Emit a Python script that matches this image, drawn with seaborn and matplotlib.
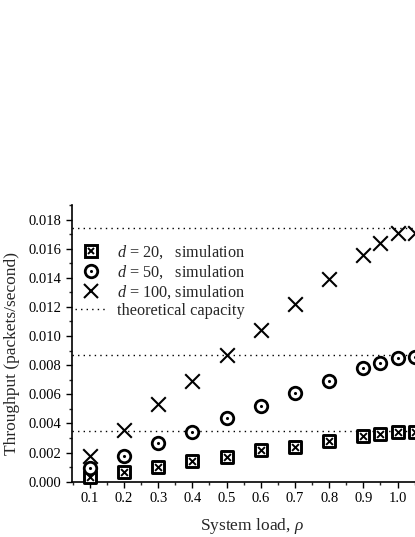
import numpy as np
import pandas as pd
import matplotlib
matplotlib.use("Agg")
import matplotlib.pyplot as plt
from matplotlib.lines import Line2D
from matplotlib.ticker import MultipleLocator, FixedLocator, FormatStrFormatter
import seaborn as sns

# ── data ────────────────────────────────────────────────────────────────────
rho = [0.1, 0.2, 0.3, 0.4, 0.5, 0.6, 0.7, 0.8, 0.9, 0.95, 1.0, 1.05]
thr_d20 = [0.00034, 0.00069, 0.00103, 0.00142, 0.00172, 0.00218,
           0.00241, 0.00282, 0.00314, 0.00328, 0.00340, 0.00342]
thr_d50 = [0.00092, 0.00179, 0.00264, 0.00344, 0.00436, 0.00521,
           0.00612, 0.00693, 0.00780, 0.00818, 0.00849, 0.00858]
thr_d100 = [0.00177, 0.00356, 0.00532, 0.00693, 0.00872, 0.01043,
            0.01222, 0.01393, 0.01558, 0.01640, 0.01708, 0.01710]
capacity = [0.0035, 0.0087, 0.0174]
x_ticks = [0.1, 0.2, 0.3, 0.4, 0.5, 0.6, 0.7, 0.8, 0.9, 1.0]
legend_labels = [r"$d$ = 20,   simulation", r"$d$ = 50,   simulation",
                 r"$d$ = 100, simulation", "theoretical capacity"]

df = pd.DataFrame({"rho": rho, "d20": thr_d20, "d50": thr_d50, "d100": thr_d100})

# ── style ───────────────────────────────────────────────────────────────────
sns.set_theme(style="ticks")
plt.rcParams["font.family"] = ["Liberation Serif", "DejaVu Serif"]
plt.rcParams["mathtext.fontset"] = "custom"
plt.rcParams["mathtext.rm"] = "Liberation Serif"
plt.rcParams["mathtext.it"] = "Liberation Serif:italic"
plt.rcParams["xtick.direction"] = "out"
plt.rcParams["ytick.direction"] = "out"

fig = plt.figure(figsize=(4.15, 5.37), dpi=100)
ax = fig.add_axes([0.1728, 0.103, 0.8675, 0.5153])

dot = (0, (1, 3))
for c in capacity:
    ax.axhline(c, color="black", lw=1.0, ls=dot, zorder=1)

# d = 20 : boxed x
sns.scatterplot(data=df, x="rho", y="d20", marker="s", s=70, facecolor="white",
                edgecolor="black", linewidth=2.1, ax=ax, zorder=3, clip_on=False)
sns.scatterplot(data=df, x="rho", y="d20", marker="x", s=24, color="black",
                linewidth=1.4, ax=ax, zorder=4, clip_on=False)
# d = 50 : circle with dot
sns.scatterplot(data=df, x="rho", y="d50", marker="o", s=81, facecolor="white",
                edgecolor="black", linewidth=2, ax=ax, zorder=3, clip_on=False)
sns.scatterplot(data=df, x="rho", y="d50", marker="o", s=5, color="black",
                linewidth=0, ax=ax, zorder=4, clip_on=False)
# d = 100 : big x
sns.scatterplot(data=df, x="rho", y="d100", marker="x", s=110, color="black",
                linewidth=1.5, ax=ax, zorder=3, clip_on=False)

ax.set_xlim(0.047, 1.1)
ax.set_ylim(0, 0.019)
ax.xaxis.set_major_locator(FixedLocator(x_ticks))
ax.xaxis.set_minor_locator(MultipleLocator(0.05))
ax.yaxis.set_major_locator(MultipleLocator(0.002))
ax.yaxis.set_minor_locator(MultipleLocator(0.001))
ax.xaxis.set_major_formatter(FormatStrFormatter("%.1f"))
ax.yaxis.set_major_formatter(FormatStrFormatter("%.3f"))
ax.tick_params(which="major", length=4, width=1, labelsize=10.5, colors="black")
ax.tick_params(which="minor", length=2.5, width=1)
ax.tick_params(axis="x", pad=3.5)
for s in ["top", "right"]:
    ax.spines[s].set_visible(False)
for s in ["left", "bottom"]:
    ax.spines[s].set_color("black")
    ax.spines[s].set_linewidth(1.2)

ax.set_xlabel(r"System load, $\rho$", fontsize=12.5, labelpad=8)
ax.set_ylabel("Throughput (packets/second)", fontsize=12.5)
ax.yaxis.set_label_coords(-0.145, 0.465)

# legend with composite markers
h20 = (Line2D([], [], ls="", marker="s", ms=8.4, mfc="white", mec="black", mew=2.1),
       Line2D([], [], ls="", marker="x", ms=4.9, mec="black", mew=1.4))
h50 = (Line2D([], [], ls="", marker="o", ms=9, mfc="white", mec="black", mew=2),
       Line2D([], [], ls="", marker="o", ms=2.2, mfc="black", mec="black", mew=0))
h100 = Line2D([], [], ls="", marker="x", ms=10.5, mec="black", mew=1.5)
hcap = Line2D([], [], color="black", lw=1.0, ls=dot)
ax.legend([h20, h50, h100, hcap], legend_labels, loc="upper left",
          bbox_to_anchor=(0.009, 0.86), frameon=False, fontsize=11.7,
          borderpad=0, borderaxespad=0, handlelength=2.0, handletextpad=0.6,
          labelspacing=0.12)

fig.savefig("out.png", dpi=100)
